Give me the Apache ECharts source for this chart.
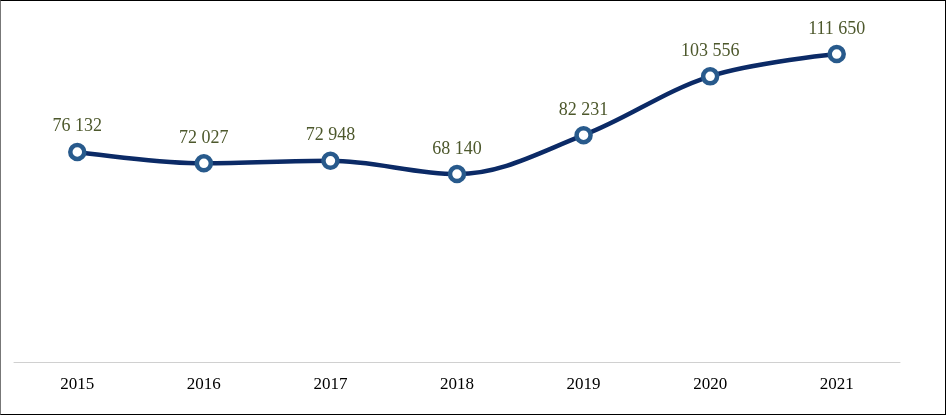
<!DOCTYPE html>
<html>
<head>
<meta charset="utf-8">
<script src="https://cdn.jsdelivr.net/npm/echarts@6/dist/echarts.min.js"></script>
<style>
html,body{margin:0;padding:0;background:#fff;}
#c{width:946px;height:415px;box-sizing:border-box;border:1px solid #000;border-left-color:#777;}
</style>
</head>
<body>
<div id="c"></div>
<script>
const years = ['2015','2016','2017','2018','2019','2020','2021'];
const values = [76132, 72027, 72948, 68140, 82231, 103556, 111650];

function fmt(v){ return String(v).replace(/\B(?=(\d{3})+(?!\d))/g, ' '); }

const chart = echarts.init(document.getElementById('c'));
chart.setOption({
  animation: false,
  grid: { left: 13, right: 45, top: 30, bottom: 52 },
  xAxis: {
    type: 'category',
    data: years,
    boundaryGap: true,
    axisLine: { lineStyle: { color: '#d0d0d0', width: 1 } },
    axisTick: { show: false },
    axisLabel: { color: '#000', fontFamily: 'Liberation Serif', fontSize: 17, margin: 14 }
  },
  yAxis: {
    type: 'value',
    min: 0, max: 120000,
    show: false,
    splitLine: { show: false }
  },
  series: [{
    type: 'line',
    data: values,
    smooth: 0.35,
    lineStyle: { color: '#0b2a66', width: 4.5 },
    symbol: 'circle',
    symbolSize: 14,
    itemStyle: { color: '#ffffff', borderColor: '#285a8c', borderWidth: 4.5 },
    label: {
      show: true,
      position: 'top',
      distance: 7,
      color: '#4d582c',
      fontFamily: 'Liberation Serif',
      fontSize: 18,
      formatter: p => fmt(p.value)
    }
  }]
});
</script>
</body>
</html>
